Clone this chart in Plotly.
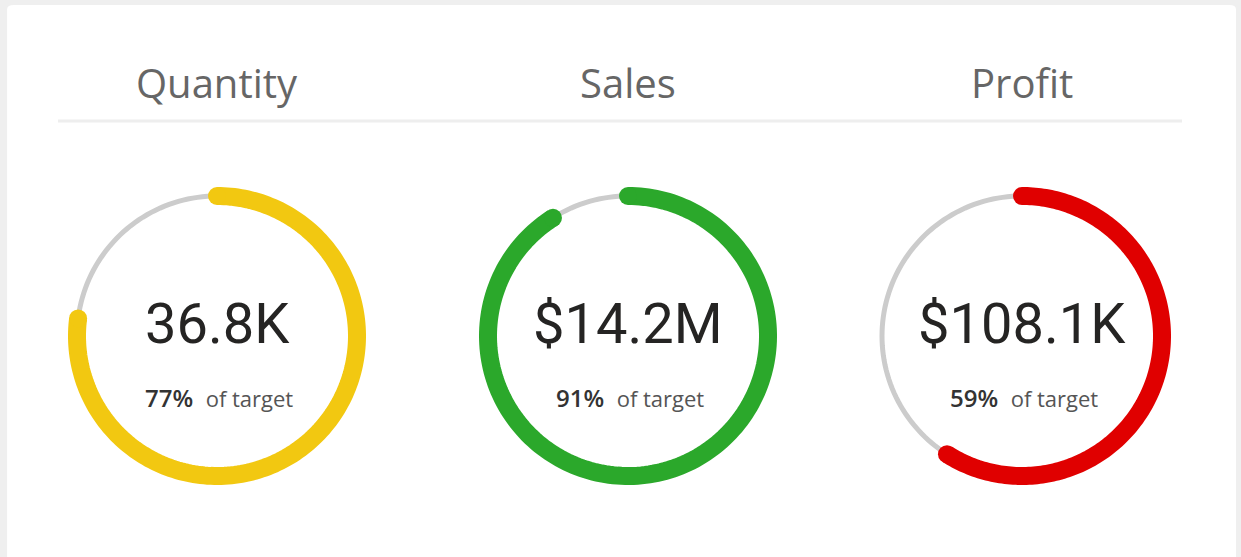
import numpy as np
import plotly.graph_objects as go

# KPI data
metrics = ["Quantity", "Sales", "Profit"]
value_labels = ["36.8K", "$14.2M", "$108.1K"]
pct_of_target = [77, 91, 59]
arc_colors = ["#F2C811", "#2BA82B", "#E00000"]

W, H = 1241, 557
centers_x = [217, 628, 1022]   # ring centres, px
center_y = 336
ring_r = 140                   # radius of ring centreline, px
r_max = 1.15                   # radial range, leaves room for the thick arc

fig = go.Figure()

for i, (name, label, pct, color) in enumerate(zip(metrics, value_labels, pct_of_target, arc_colors)):
    polar = "polar" if i == 0 else f"polar{i + 1}"
    cx = centers_x[i]
    half = ring_r * r_max
    fig.update_layout({
        polar: dict(
            domain=dict(
                x=[(cx - half) / W, (cx + half) / W],
                y=[(H - center_y - half) / H, (H - center_y + half) / H],
            ),
            bgcolor="rgba(0,0,0,0)",
            radialaxis=dict(visible=False, range=[0, r_max]),
            angularaxis=dict(visible=False, rotation=90, direction="clockwise"),
        )
    })

    # grey track
    track = np.linspace(0, 360, 181)
    fig.add_trace(go.Scatterpolar(
        r=[1] * len(track), theta=track, mode="lines",
        line=dict(color="#CCCCCC", width=5),
        subplot=polar, cliponaxis=False, hoverinfo="skip", showlegend=False,
    ))

    # progress arc
    theta = np.linspace(0, pct / 100 * 360, 200)
    fig.add_trace(go.Scatterpolar(
        r=[1] * len(theta), theta=theta, mode="lines",
        line=dict(color=color, width=18),
        subplot=polar, cliponaxis=False, hoverinfo="skip", showlegend=False,
    ))
    # round caps
    fig.add_trace(go.Scatterpolar(
        r=[1, 1], theta=[theta[0], theta[-1]], mode="markers",
        marker=dict(color=color, size=18, line=dict(width=0)),
        subplot=polar, cliponaxis=False, hoverinfo="skip", showlegend=False,
    ))

    # title
    fig.add_annotation(
        x=cx / W, y=1 - 82 / H, xref="paper", yref="paper",
        text=name, showarrow=False, xanchor="center", yanchor="middle",
        font=dict(family="Open Sans", size=40, color="#666666"),
    )
    # main value
    fig.add_annotation(
        x=cx / W, y=1 - 324 / H, xref="paper", yref="paper",
        text=label, showarrow=False, xanchor="center", yanchor="middle",
        font=dict(family="Roboto", size=56, color="#252423"),
    )
    # percent of target
    fig.add_annotation(
        x=(cx + 2) / W, y=1 - 397 / H, xref="paper", yref="paper",
        text=(f"{pct}%  <span style='font-size:22px;color:#555555;font-weight:400'>"
              f"of target</span>"),
        showarrow=False, xanchor="center", yanchor="middle",
        font=dict(family="Open Sans", size=24, color="#333333", weight=600),
    )

# card background and divider line
fig.add_shape(
    type="path", xref="paper", yref="paper", layer="below",
    path="M 0.0057,0 L 0.9960,0 L 0.9960,0.983 Q 0.9960,0.991 0.9905,0.991 "
         "L 0.0113,0.991 Q 0.0057,0.991 0.0057,0.983 Z",
    fillcolor="white", line=dict(width=0),
)
fig.add_shape(
    type="line", xref="paper", yref="paper",
    x0=58 / W, x1=1182 / W, y0=1 - 121 / H, y1=1 - 121 / H,
    line=dict(color="#EEEEEE", width=3),
)

fig.update_layout(
    width=W, height=H,
    margin=dict(l=0, r=0, t=0, b=0),
    paper_bgcolor="#EFEFEF",
    plot_bgcolor="white",
    showlegend=False,
)

fig.write_html(
    "out.html",
    config={"displayModeBar": False},
    post_script="document.body.style.margin='0';",
)
